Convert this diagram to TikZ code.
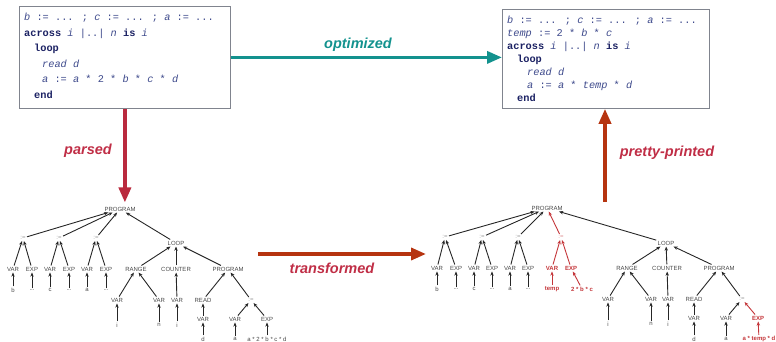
\documentclass[tikz,border=0pt]{standalone}
\usepackage{fontspec}
\setmainfont{Liberation Sans}
\newfontfamily\codefont{Liberation Mono}
\usetikzlibrary{arrows.meta}

\definecolor{codeblue}{RGB}{62,74,140}
\definecolor{kwblue}{RGB}{28,34,100}
\definecolor{boxgray}{RGB}{128,132,142}
\definecolor{optteal}{RGB}{19,146,142}
\definecolor{parsecrimson}{RGB}{186,42,62}
\definecolor{labelcrimson}{RGB}{192,46,70}
\definecolor{rust}{RGB}{182,52,16}
\definecolor{treegray}{RGB}{72,72,72}
\definecolor{treered}{RGB}{196,54,58}

\newcommand\ckw[1]{{\bfseries\color{kwblue}#1}}
\newcommand\cid[1]{{\itshape #1}}

\tikzset{
  codebox/.style={draw=boxgray, line width=0.8pt, fill=white, inner sep=0pt},
  codeline/.style={anchor=base west, inner sep=0pt, text=codeblue,
    font=\codefont\fontsize{10.3}{12}\selectfont},
  biglabel/.style={inner sep=0pt, font=\bfseries\itshape\fontsize{14.5}{16}\selectfont},
  bigarrow/.style={line width=3.5pt, -{Triangle[length=15pt,width=12pt]}},
  tn/.style={inner sep=1.2pt, text=treegray, font=\fontsize{6}{7}\selectfont},
  asg/.style={tn, text=black!42},
  rtn/.style={tn, text=treered, font=\bfseries\fontsize{6}{7}\selectfont},
  rasg/.style={tn, text=treered!60},
  tarr/.style={draw=black!85, line width=0.9pt, -{Stealth[length=4.2pt,width=3.4pt]}},
  rtarr/.style={tarr, draw=treered},
}

\begin{document}
\begin{tikzpicture}[x=1pt, y=-1pt]
\useasboundingbox (0,0) rectangle (776,342);

% ---------- source program ----------
\node[codebox, minimum width=211pt, minimum height=102pt, anchor=north west] (lbox) at (19,6) {};
\node[codeline] (l1) at (24,20.5) {\cid{b} := ... ; \cid{c} := ... ; \cid{a} := ...};
\node[codeline] (l2) at (24,36.1) {\ckw{across} \cid{i} |..| \cid{n} \ckw{is} \cid{i}};
\node[codeline] (l3) at (34,51.7) {\ckw{loop}};
\node[codeline] (l4) at (42,67.3) {\cid{read d}};
\node[codeline] (l5) at (42,82.9) {\cid{a} := \cid{a} * 2 * \cid{b} * \cid{c} * \cid{d}};
\node[codeline] (l6) at (34,98.5) {\ckw{end}};

% ---------- optimized program ----------
\node[codebox, minimum width=207pt, minimum height=99pt, anchor=north west] (rbox) at (502,9) {};
\node[codeline] (r1) at (507,23.6) {\cid{b} := ... ; \cid{c} := ... ; \cid{a} := ...};
\node[codeline] (r2) at (507,36.6) {\cid{temp} := 2 * \cid{b} * \cid{c}};
\node[codeline] (r3) at (507,49.6) {\ckw{across} \cid{i} |..| \cid{n} \ckw{is} \cid{i}};
\node[codeline] (r4) at (517,62.6) {\ckw{loop}};
\node[codeline] (r5) at (527,75.6) {\cid{read d}};
\node[codeline] (r6) at (527,88.6) {\cid{a} := \cid{a} * \cid{temp} * \cid{d}};
\node[codeline] (r7) at (517,101.6) {\ckw{end}};

% ---------- abstract syntax tree of the source ----------
\node[tn] (Lprog) at (120,209) {PROGRAM};
\node[asg] (La1) at (23,238) {:=};
\node[asg] (La2) at (59,238) {:=};
\node[asg] (La3) at (96,238) {:=};
\node[tn] (Lv1) at (13,269) {VAR};
\node[tn] (Le1) at (32,269) {EXP};
\node[tn] (Lv2) at (50,269) {VAR};
\node[tn] (Le2) at (69,269) {EXP};
\node[tn] (Lv3) at (87,269) {VAR};
\node[tn] (Le3) at (106,269) {EXP};
\node[tn] (Lb) at (13,290) {b};
\node[tn] (Lbx) at (32,290) {...};
\node[tn] (Lc) at (50,290) {c};
\node[tn] (Lcx) at (69,290) {...};
\node[tn] (La) at (87,290) {a};
\node[tn] (Lax) at (106,290) {...};
\node[tn] (Lloop) at (176,243) {LOOP};
\node[tn] (Lrange) at (136,269) {RANGE};
\node[tn] (Lcount) at (176,269) {COUNTER};
\node[tn] (Lbody) at (228,269) {PROGRAM};
\node[tn] (Lri) at (117,300) {VAR};
\node[tn] (Lrn) at (159,300) {VAR};
\node[tn] (Lci) at (177,300) {VAR};
\node[tn] (Lrii) at (117,325) {i};
\node[tn] (Lrnn) at (159,325) {n};
\node[tn] (Lcii) at (177,325) {i};
\node[tn] (Lread) at (203,300) {READ};
\node[asg] (La4) at (251,300) {:=};
\node[tn] (Lrv) at (203,319) {VAR};
\node[tn] (Lav) at (235,319) {VAR};
\node[tn] (Lae) at (267,319) {EXP};
\node[tn] (Lrd) at (203,339) {d};
\node[tn] (Lava) at (235,339) {a};
\node[tn] (Laee) at (267,339) {a * 2 * b * c * d};

\foreach \c/\p in {La1/Lprog, La2/Lprog, La3/Lprog, Lloop/Lprog,
    Lv1/La1, Le1/La1, Lv2/La2, Le2/La2, Lv3/La3, Le3/La3,
    Lb/Lv1, Lbx/Le1, Lc/Lv2, Lcx/Le2, La/Lv3, Lax/Le3,
    Lrange/Lloop, Lcount/Lloop, Lbody/Lloop,
    Lri/Lrange, Lrn/Lrange, Lci/Lcount, Lrii/Lri, Lrnn/Lrn, Lcii/Lci,
    Lread/Lbody, La4/Lbody, Lrv/Lread, Lrd/Lrv,
    Lav/La4, Lae/La4, Lava/Lav, Laee/Lae}
  \draw[tarr] (\c) -- (\p);

% ---------- transformed abstract syntax tree ----------
\node[tn] (Rprog) at (547,208) {PROGRAM};
\node[asg] (Ra1) at (445,237) {:=};
\node[asg] (Ra2) at (482,237) {:=};
\node[asg] (Ra3) at (518,237) {:=};
\node[rasg] (Rat) at (561,237) {:=};
\node[tn] (Rv1) at (437,268) {VAR};
\node[tn] (Re1) at (456,268) {EXP};
\node[tn] (Rv2) at (474,268) {VAR};
\node[tn] (Re2) at (492,268) {EXP};
\node[tn] (Rv3) at (510,268) {VAR};
\node[tn] (Re3) at (528,268) {EXP};
\node[rtn] (Rvt) at (552,268) {VAR};
\node[rtn] (Ret) at (571,268) {EXP};
\node[tn] (Rb) at (437,289) {b};
\node[tn] (Rbx) at (456,289) {...};
\node[tn] (Rc) at (474,289) {c};
\node[tn] (Rcx) at (492,289) {...};
\node[tn] (Ra) at (510,289) {a};
\node[tn] (Rax) at (528,289) {...};
\node[rtn] (Rtemp) at (552,289) {temp};
\node[rtn] (Rtexp) at (582,289) {2 * b * c};
\node[tn] (Rloop) at (666,243) {LOOP};
\node[tn] (Rrange) at (627,268) {RANGE};
\node[tn] (Rcount) at (667,268) {COUNTER};
\node[tn] (Rbody) at (719,268) {PROGRAM};
\node[tn] (Rri) at (608,299) {VAR};
\node[tn] (Rrn) at (651,299) {VAR};
\node[tn] (Rci) at (668,299) {VAR};
\node[tn] (Rrii) at (608,324) {i};
\node[tn] (Rrnn) at (651,324) {n};
\node[tn] (Rcii) at (668,324) {i};
\node[tn] (Rread) at (694,299) {READ};
\node[asg] (Ra4) at (742,299) {:=};
\node[tn] (Rrv) at (694,318) {VAR};
\node[tn] (Rav) at (726,318) {VAR};
\node[rtn] (Rae) at (758,318) {EXP};
\node[tn] (Rrd) at (694,339) {d};
\node[tn] (Rava) at (726,339) {a};
\node[rtn] (Raee) at (759,339) {a * temp * d};

\foreach \c/\p in {Ra1/Rprog, Ra2/Rprog, Ra3/Rprog, Rloop/Rprog,
    Rv1/Ra1, Re1/Ra1, Rv2/Ra2, Re2/Ra2, Rv3/Ra3, Re3/Ra3,
    Rb/Rv1, Rbx/Re1, Rc/Rv2, Rcx/Re2, Ra/Rv3, Rax/Re3,
    Rrange/Rloop, Rcount/Rloop, Rbody/Rloop,
    Rri/Rrange, Rrn/Rrange, Rci/Rcount, Rrii/Rri, Rrnn/Rrn, Rcii/Rci,
    Rread/Rbody, Ra4/Rbody, Rrv/Rread, Rrd/Rrv,
    Rav/Ra4, Rava/Rav}
  \draw[tarr] (\c) -- (\p);

\foreach \c/\p in {Rat/Rprog, Rvt/Rat, Ret/Rat, Rtemp/Rvt, Rtexp/Ret,
    Rae/Ra4, Raee/Rae}
  \draw[rtarr] (\c) -- (\p);

% ---------- processing steps ----------
\draw[bigarrow, draw=optteal] (lbox.east) -- (rbox.west |- lbox.east);
\node[biglabel, text=optteal] (optlbl) at (358,45) {optimized};

\draw[bigarrow, draw=parsecrimson, shorten >=3pt] (lbox.south) -- (lbox.south |- Lprog.north);
\node[biglabel, text=labelcrimson] (parlbl) at (88,151) {parsed};

\coordinate (trtail) at (258,254);
\coordinate (trhead) at (426,254);
\draw[bigarrow, draw=rust] (trtail) -- (trhead);
\node[biglabel, text=labelcrimson] (trlbl) at (332,268) {transformed};

\coordinate (pptail) at (605,202);
\draw[bigarrow, draw=rust] (pptail) -- (pptail |- rbox.south);
\node[biglabel, text=labelcrimson] (pplbl) at (667,153) {pretty-printed};
\end{tikzpicture}
\end{document}
